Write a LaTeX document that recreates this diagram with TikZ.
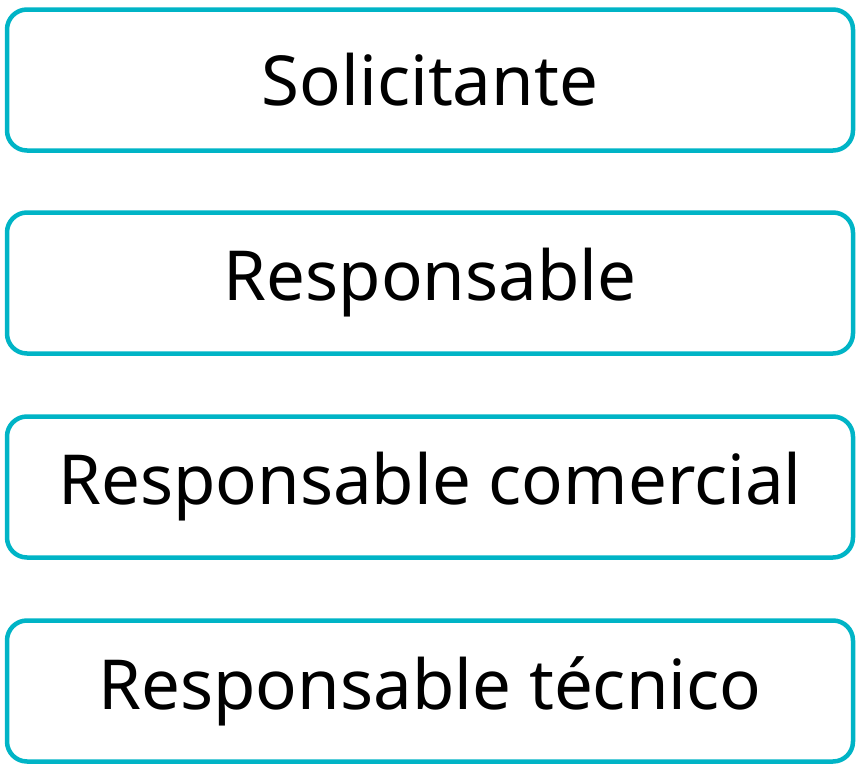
\documentclass[tikz,border=0pt]{standalone}
\usepackage{fontspec}
\setmainfont{Noto Sans}
\definecolor{bc}{HTML}{00B4C6}
\tikzset{rolebox/.style={draw=bc,line width=4.5pt,rounded corners=20pt,minimum width=846pt,minimum height=141pt,inner sep=0pt,font=\fontsize{69}{76}\selectfont}}
\begin{document}
\begin{tikzpicture}[x=1pt,y=-1pt]
\useasboundingbox (0,0) rectangle (857,774);
\node[rolebox] (a) at (430,80) {Solicitante};
\node[rolebox] (b) at (430,283) {Responsable};
\node[rolebox] (c) at (430,487) {Responsable comercial};
\node[rolebox] (d) at (430,691) {Responsable técnico};
\end{tikzpicture}
\end{document}
